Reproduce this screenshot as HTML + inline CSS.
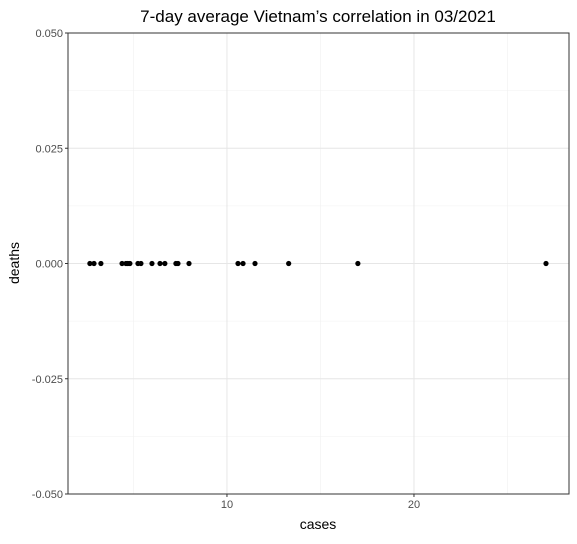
<!DOCTYPE html>
<html><head><meta charset="utf-8"><style>
body{margin:0;background:#fff;font-family:"Liberation Sans",sans-serif}
</style></head><body>
<svg width="577" height="539" xmlns="http://www.w3.org/2000/svg">
<g id="grid"></g>
<g id="pts"></g>
<rect x="68" y="33" width="501" height="461" fill="none" stroke="#333" stroke-width="1"/>
<g id="ticks" font-size="11" fill="#4d4d4d"></g>
<text x="318" y="22" text-anchor="middle" font-size="17" fill="#000">7-day average Vietnam’s correlation in 03/2021</text>
<text x="318" y="529" text-anchor="middle" font-size="14" fill="#000">cases</text>
<text x="19" y="263" text-anchor="middle" font-size="14" fill="#000" transform="rotate(-90 19 263)">deaths</text>
</svg>
<script>
const cases=[2.67,2.89,3.26,4.39,4.6,4.7,4.81,5.24,5.4,5.99,6.42,6.68,7.27,7.38,7.97,10.59,10.86,11.5,13.3,17.0,27.06];
const deaths=[0,0,0,0,0,0,0,0,0,0,0,0,0,0,0,0,0,0,0,0,0];
const xTicks=[10,20];
const xMinor=[5,15,25];
const yTicks=[-0.05,-0.025,0,0.025,0.05];
const yTickLabels=["-0.050","-0.025","0.000","0.025","0.050"];
const yMinor=[-0.0375,-0.0125,0.0125,0.0375];
const X0=68,X1=569,Y0=33,Y1=494,xmin=1.5,xmax=28.29,ymin=-0.05,ymax=0.05;
const sx=v=>X0+(v-xmin)/(xmax-xmin)*(X1-X0);
const sy=v=>Y1-(v-ymin)/(ymax-ymin)*(Y1-Y0);
const NS="http://www.w3.org/2000/svg";
const grid=document.getElementById('grid'),pts=document.getElementById('pts'),tk=document.getElementById('ticks');
function line(x1,y1,x2,y2,c,w,name){const l=document.createElementNS(NS,'line');
l.setAttribute('x1',x1);l.setAttribute('y1',y1);l.setAttribute('x2',x2);l.setAttribute('y2',y2);
l.setAttribute('stroke',c);l.setAttribute('stroke-width',w);


return l;}
xMinor.forEach(v=>grid.appendChild(line(sx(v),Y0,sx(v),Y1,'#f0f0f0',0.6,'x-minor-gridline')));
yMinor.forEach(v=>grid.appendChild(line(X0,sy(v),X1,sy(v),'#f0f0f0',0.6,'y-minor-gridline')));
xTicks.forEach(v=>{grid.appendChild(line(sx(v),Y0,sx(v),Y1,'#e6e6e6',1,'x-gridline'));
tk.appendChild(line(sx(v),Y1,sx(v),Y1+3,'#333',1,'x-tick'));
const t=document.createElementNS(NS,'text');t.setAttribute('x',sx(v));t.setAttribute('y',Y1+14);t.setAttribute('text-anchor','middle');t.textContent=v;


tk.appendChild(t);});
yTicks.forEach((v,i)=>{grid.appendChild(line(X0,sy(v),X1,sy(v),'#e6e6e6',1,'y-gridline'));
tk.appendChild(line(X0-3,sy(v),X0,sy(v),'#333',1,'y-tick'));
const t=document.createElementNS(NS,'text');t.setAttribute('x',X0-5);t.setAttribute('y',sy(v)+4);t.setAttribute('text-anchor','end');t.textContent=yTickLabels[i];


tk.appendChild(t);});
cases.forEach((c,i)=>{const p=document.createElementNS(NS,'circle');
p.setAttribute('cx',sx(c));p.setAttribute('cy',sy(deaths[i]));p.setAttribute('r',2.6);p.setAttribute('fill','#000');


pts.appendChild(p);});
</script>
</body></html>
